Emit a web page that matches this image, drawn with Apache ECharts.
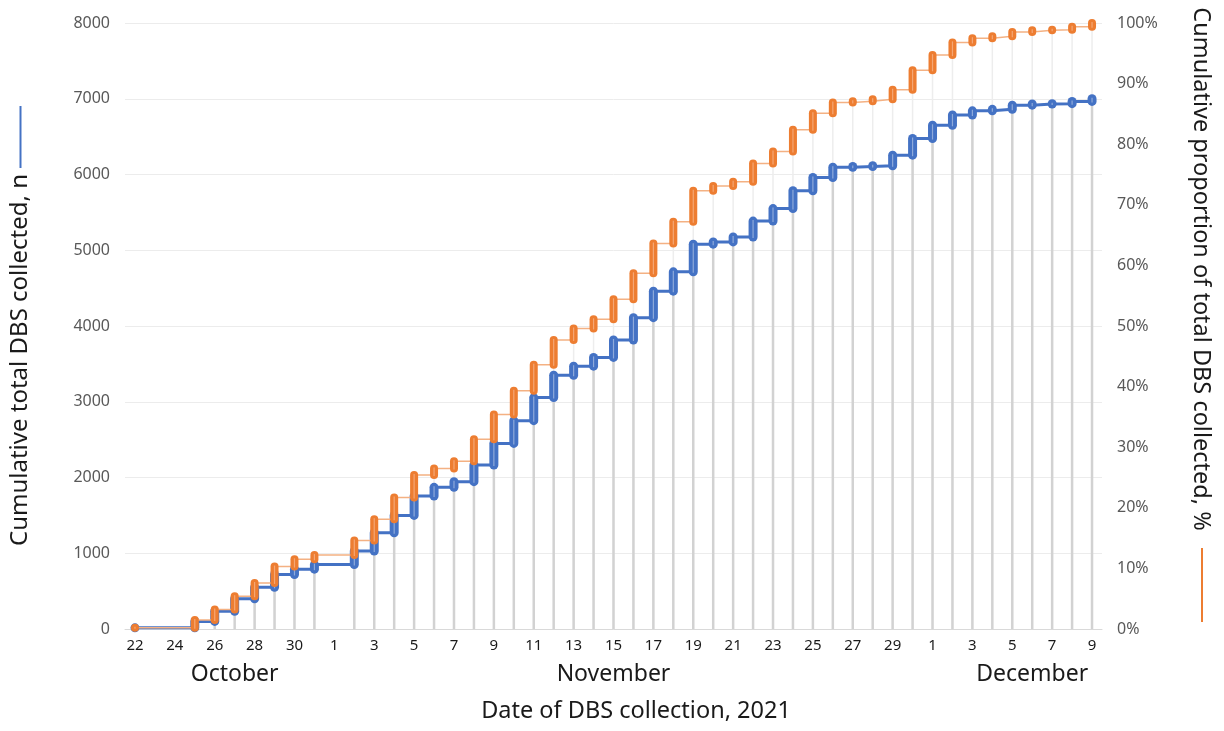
<!DOCTYPE html>
<html><head><meta charset="utf-8">
<script src="https://cdn.jsdelivr.net/npm/echarts@6/dist/echarts.min.js"></script>
<style>html,body{margin:0;padding:0;background:#fff}#c{width:1224px;height:731px}</style>
</head><body><div id="c"></div>
<script>
// Day-of-month categories, 22 Oct 2021 to 9 Dec 2021
const days = ['22','23','24','25','26','27','28','29','30','31',
  '1','2','3','4','5','6','7','8','9','10','11','12','13','14','15','16','17','18','19','20','21','22','23','24','25','26','27','28','29','30',
  '1','2','3','4','5','6','7','8','9'];
const monthNames = ['October','November','December'];
const monthLabelAt = [5, 24, 45]; // category index under which each month name is printed
// Cumulative total DBS collected, n (null = no collection that day)
const cumTotal = [15,null,null,100,235,400,550,720,790,850,
  null,1030,1270,1500,1755,1870,1945,2165,2450,2750,3055,3350,3470,3585,3815,4110,4460,4715,5080,5110,5175,5385,5550,5785,5960,6095,6105,6115,6255,6475,
  6650,6785,6840,6860,6915,6930,6935,6965,7000];
// Cumulative proportion of total DBS collected, %
const cumPct = [0.2,null,null,1.5,3.2,5.4,7.6,10.3,11.5,12.2,
  null,14.6,18.1,21.7,25.4,26.5,27.7,31.3,35.4,39.3,43.6,47.7,49.6,51.1,54.4,58.7,63.6,67.2,72.3,73.1,73.8,76.8,78.8,82.4,85.1,86.9,87.1,87.4,89.0,92.2,
  94.7,96.8,97.5,97.8,98.5,98.8,98.9,99.4,100];
const leftTicks = {min:0, max:8000, interval:1000};
const rightTicks = {min:0, max:100, interval:10};

const BLUE = '#4472C4', ORANGE = '#ED7D31';
const FONT = 'Noto Sans';

function capsules(arr){
  const out = []; let prev = null;
  arr.forEach((v,i)=>{ if(v==null) return; out.push([i, prev==null? v : prev, v]); prev = v; });
  return out;
}
function drops(arr){
  const out=[]; arr.forEach((v,i)=>{ if(v!=null) out.push([i,v]); }); return out;
}
function capsuleRender(color, inner, w){
  return function(params, api){
    const x = api.value(0);
    const p0 = api.coord([x, api.value(1)]), p1 = api.coord([x, api.value(2)]);
    const top = Math.min(p0[1],p1[1]), bot = Math.max(p0[1],p1[1]);
    return {type:'group', children:[
      {type:'rect', shape:{x:p0[0]-w/2, y:top-w/2, width:w, height:bot-top+w, r:w/2},
        style:{fill:color}},
      {type:'line', shape:{x1:p0[0], y1:top-1, x2:p0[0], y2:bot+1},
        style:{stroke:inner, lineWidth:1.2}}
    ]};
  };
}
function dropRender(color, w){
  return function(params, api){
    const x = api.value(0);
    const p0 = api.coord([x, api.value(1)]), p1 = api.coord([x, 0]);
    return {type:'line', shape:{x1:p0[0], y1:p0[1], x2:p1[0], y2:p1[1]}, style:{stroke:color, lineWidth:w}};
  };
}
const monthAxisData = days.map(()=> '');
monthLabelAt.forEach((idx,k)=>{ monthAxisData[idx] = monthNames[k]; });

const chart = echarts.init(document.getElementById('c'), null, {renderer:'canvas'});
chart.setOption({
  animation:false,
  backgroundColor:'#fff',
  grid:{left:125, right:122, top:23, bottom:102},
  xAxis:[{
    type:'category', data:days, boundaryGap:true,
    axisLine:{lineStyle:{color:'#d9d9d9', width:1}},
    axisTick:{show:false},
    axisLabel:{interval:1, color:'#1a1a1a', fontFamily:FONT, fontSize:15, margin:9}
  },{
    type:'category', data:monthAxisData, position:'bottom', offset:26, boundaryGap:true,
    axisLine:{show:false}, axisTick:{show:false},
    axisLabel:{interval:0, color:'#1a1a1a', fontFamily:FONT, fontSize:23}
  }],
  yAxis:[{
    type:'value', min:leftTicks.min, max:leftTicks.max, interval:leftTicks.interval,
    axisLine:{show:false}, axisTick:{show:false},
    splitLine:{lineStyle:{color:'#ececec', width:1}},
    axisLabel:{color:'#595959', fontFamily:FONT, fontSize:16, margin:15, formatter:(v)=>String(v)}
  },{
    type:'value', min:rightTicks.min, max:rightTicks.max, interval:rightTicks.interval,
    axisLine:{show:false}, axisTick:{show:false}, splitLine:{show:false},
    axisLabel:{color:'#595959', fontFamily:FONT, fontSize:16, margin:15, formatter:'{value}%'}
  }],
  series:[
    {type:'custom', yAxisIndex:1, data:drops(cumPct), renderItem:dropRender('#ededed',1.5), encode:{x:0,y:1}, z:1, silent:true},
    {type:'custom', yAxisIndex:0, data:drops(cumTotal), renderItem:dropRender('#d2d2d2',2.5), encode:{x:0,y:1}, z:1, silent:true},
    {type:'line', yAxisIndex:0, data:cumTotal, step:'end', connectNulls:true, showSymbol:false,
      lineStyle:{color:BLUE, width:3}, z:3},
    {type:'custom', yAxisIndex:0, data:capsules(cumTotal), renderItem:capsuleRender(BLUE,'#8eaadb',9), encode:{x:0,y:[1,2]}, z:4},
    {type:'line', yAxisIndex:1, data:cumPct, step:'end', connectNulls:true, showSymbol:false,
      lineStyle:{color:'#F4B183', width:1.5}, z:5},
    {type:'custom', yAxisIndex:1, data:capsules(cumPct), renderItem:capsuleRender(ORANGE,'#f5a774',8), encode:{x:0,y:[1,2]}, z:6}
  ],
  graphic:[
    {type:'text', x:20, y:360, rotation:Math.PI/2,
      style:{text:'Cumulative total DBS collected, n', fill:'#1a1a1a', font:'24px "'+FONT+'"', textAlign:'center', textVerticalAlign:'middle'}},
    {type:'line', shape:{x1:20.5, y1:106, x2:20.5, y2:168}, style:{stroke:BLUE, lineWidth:2}},
    {type:'text', x:1201, y:269, rotation:-Math.PI/2,
      style:{text:'Cumulative proportion of total DBS collected, %', fill:'#1a1a1a', font:'23.5px "'+FONT+'"', textAlign:'center', textVerticalAlign:'middle'}},
    {type:'line', shape:{x1:1202, y1:548, x2:1202, y2:622}, style:{stroke:ORANGE, lineWidth:2}},
    {type:'text', x:636, y:711,
      style:{text:'Date of DBS collection, 2021', fill:'#1a1a1a', font:'23.5px "'+FONT+'"', textAlign:'center', textVerticalAlign:'middle'}}
  ]
});
</script></body></html>
